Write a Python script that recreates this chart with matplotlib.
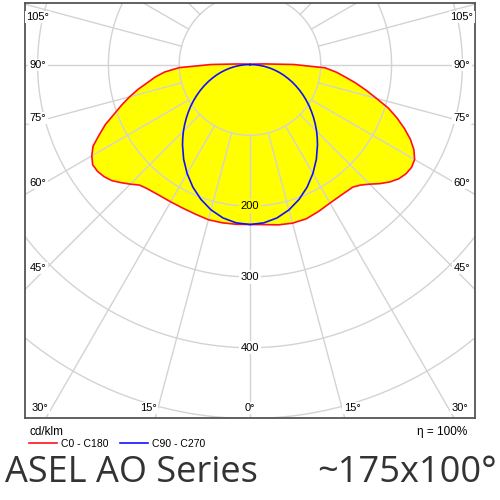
import numpy as np
import matplotlib.pyplot as plt

# luminous intensity distribution (cd/klm), angle measured from nadir
angles = [0, 5, 10, 15, 20, 25, 30, 35, 40, 42.5, 45, 47.5, 50, 52.5, 55, 57.5,
          60, 62.5, 65, 67.5, 70, 72.5, 75, 77.5, 80, 82.5, 85, 87.5, 90,
          92.5, 95, 100]
c0 = [226, 227, 230, 232, 232, 229, 226, 225, 226, 231, 239, 249, 258, 265,
      269, 270.5, 268.5, 261, 250, 236, 221, 205, 185, 168, 152, 136, 122,
      106, 62, 20, 8, 3]
c180 = [226, 226.5, 227, 227, 225, 224, 224, 225, 228, 231, 239, 247, 255,
        260, 263, 263.5, 258, 250, 235, 221, 204, 190, 176, 162, 147, 135,
        121, 100, 55, 18, 8, 3]
c90 = [226, 224.5, 220, 212.6, 202.7, 191, 177.7, 163.4, 148.3, 140.6, 133,
       125.1, 117.4, 109.6, 102, 94.3, 86.7, 79.1, 71.7, 64.3, 56.9, 49.7,
       42.5, 35.3, 28.2, 21.1, 14.1, 7, 0, 0, 0, 0]
c270 = c90

rings = [100, 200, 300, 400, 500]
ring_labels = [200, 300, 400]
efficiency = "η = 100%"


def to_xy(theta_deg, r, side):
    t = np.radians(np.asarray(theta_deg, dtype=float))
    r = np.asarray(r, dtype=float)
    return side * r * np.sin(t), -r * np.cos(t)


def plane_outline(right, left):
    xr, yr = to_xy(angles, right, 1)
    xl, yl = to_xy(angles, left, -1)
    xs = np.concatenate([[0], xl[::-1], xr, [0]])
    ys = np.concatenate([[0], yl[::-1], yr, [0]])
    return xs, ys


fig = plt.figure(figsize=(5, 5), dpi=100)
ax = fig.add_axes([0.05, 0.164, 0.9, 0.83])
ax.set_xlim(-317.8, 317.8)
ax.set_ylim(-499.3, 86.9)
ax.set_xticks([])
ax.set_yticks([])
for s in ax.spines.values():
    s.set_color("#555555")
    s.set_linewidth(1.3)

grid_col = "#d3d3d3"
x_red, y_red = plane_outline(c0, c180)
x_blue, y_blue = plane_outline(c90, c270)
ax.fill(x_red, y_red, color="#ffff00", lw=0, zorder=1)
ax.fill(x_blue, y_blue, color="#ffff00", lw=0, zorder=1)

phi = np.linspace(0, 2 * np.pi, 400)
for r in rings:
    ax.plot(r * np.cos(phi), r * np.sin(phi), color=grid_col, lw=1.0, zorder=2)
for a in range(0, 360, 15):
    x, y = to_xy([a, a], [100, 900], 1)
    ax.plot(x, y, color=grid_col, lw=1.0, zorder=2)

ax.plot(x_red, y_red, color="#ff1020", lw=1.2, zorder=3, solid_joinstyle="round")
ax.plot(x_blue, y_blue, color="#1010ff", lw=1.2, zorder=3, solid_joinstyle="round")

for r in ring_labels:
    bg = "#ffff00" if r == 200 else "white"
    ax.text(0, -r, str(r), ha="center", va="center", fontsize=8,
            family="Liberation Sans", zorder=4,
            bbox=dict(boxstyle="square,pad=0.15", fc=bg, ec="none"))

# angle labels around the frame (pixel positions of the picture)
side_labels = [("105°", 17), ("90°", 65), ("75°", 118), ("60°", 183), ("45°", 268)]
bottom_labels = [("30°", 40), ("15°", 148), ("0°", 250), ("15°", 352), ("30°", 460)]


def px_to_axes(px, py):
    return (px - 25) / 450, (418 - py) / 415


lab_kw = dict(ha="center", va="center", fontsize=8, family="Liberation Sans",
              transform=ax.transAxes, zorder=4,
              bbox=dict(boxstyle="square,pad=0.12", fc="white", ec="none"))
for txt, py in side_labels:
    ax.text(*px_to_axes(38, py), txt, **lab_kw)
    ax.text(*px_to_axes(462, py), txt, **lab_kw)
for txt, px in bottom_labels:
    ax.text(*px_to_axes(px, 408), txt, **lab_kw)

# footer
fig.text(30 / 500, 1 - 432 / 500, "cd/klm", fontsize=8.5, family="Liberation Sans",
         va="center", ha="left")
fig.add_artist(plt.Line2D([29 / 500, 57 / 500], [1 - 443 / 500] * 2, color="#ff1020", lw=1.2))
fig.text(61 / 500, 1 - 444 / 500, "C0 - C180", fontsize=7.5, family="Liberation Sans",
         va="center", ha="left")
fig.add_artist(plt.Line2D([120 / 500, 148 / 500], [1 - 443 / 500] * 2, color="#1010ff", lw=1.2))
fig.text(152 / 500, 1 - 444 / 500, "C90 - C270", fontsize=7.5, family="Liberation Sans",
         va="center", ha="left")
fig.text(467 / 500, 1 - 432 / 500, efficiency, fontsize=8.5, family="Liberation Sans",
         va="center", ha="right")

fig.text(5 / 500, 1 - 482 / 500, "ASEL AO Series", fontsize=26, family="Open Sans",
         color="#333333", va="baseline", ha="left")
fig.text(497 / 500, 1 - 482 / 500, "~175x100°", fontsize=26, family="Open Sans",
         color="#333333", va="baseline", ha="right")

fig.savefig("out.png", dpi=100)
